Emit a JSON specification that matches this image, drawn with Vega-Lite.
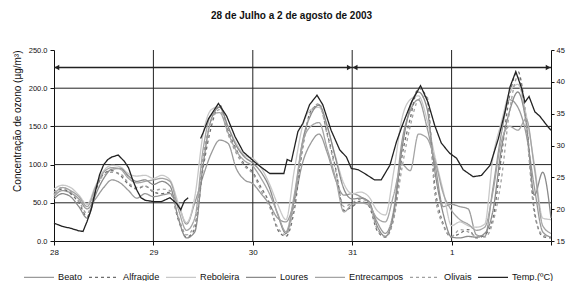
{
  "$schema": "https://vega.github.io/schema/vega-lite/v6.json",
  "width": 497,
  "height": 191,
  "autosize": "none",
  "padding": {"left": 54, "top": 50, "right": 18, "bottom": 40},
  "background": "white",
  "config": {
    "font": "Liberation Sans",
    "view": {"stroke": null},
    "axis": {"labelColor": "#111", "titleColor": "#111", "domainColor": "#111", "tickColor": "#111", "grid": false, "labelOverlap": false},
    "legend": {
      "labelFont": "Liberation Sans", "orient": "none", "legendX": -31, "legendY": 211, "direction": "horizontal",
      "symbolType": "stroke", "symbolSize": 900, "labelFontSize": 9.2, "labelOffset": 3,
      "columnPadding": 3, "labelColor": "#111", "title": null
    }
  },
  "title": {
    "text": "28 de Julho a 2 de agosto de 2003",
    "fontSize": 10,
    "fontWeight": "bold",
    "color": "#111",
    "anchor": "middle",
    "frame": "group",
    "dx": -11,
    "offset": 25
  },
  "datasets": {
    "o3": [
      {"h":0,"Beato":58,"Alfragide":62,"Reboleira":68,"Loures":55,"Entrecampos":60,"Olivais":64},
      {"h":2,"Beato":66,"Alfragide":68,"Reboleira":73,"Loures":62,"Entrecampos":70,"Olivais":70},
      {"h":4,"Beato":63,"Alfragide":62,"Reboleira":70,"Loures":58,"Entrecampos":66,"Olivais":65},
      {"h":6,"Beato":55,"Alfragide":50,"Reboleira":60,"Loures":45,"Entrecampos":58,"Olivais":52},
      {"h":8,"Beato":42,"Alfragide":32,"Reboleira":48,"Loures":30,"Entrecampos":45,"Olivais":36},
      {"h":10,"Beato":55,"Alfragide":65,"Reboleira":72,"Loures":60,"Entrecampos":70,"Olivais":68},
      {"h":12,"Beato":70,"Alfragide":88,"Reboleira":92,"Loures":82,"Entrecampos":90,"Olivais":86},
      {"h":14,"Beato":80,"Alfragide":92,"Reboleira":99,"Loures":94,"Entrecampos":96,"Olivais":90},
      {"h":16,"Beato":76,"Alfragide":86,"Reboleira":97,"Loures":95,"Entrecampos":94,"Olivais":88},
      {"h":18,"Beato":66,"Alfragide":74,"Reboleira":88,"Loures":85,"Entrecampos":82,"Olivais":76},
      {"h":20,"Beato":56,"Alfragide":68,"Reboleira":85,"Loures":78,"Entrecampos":76,"Olivais":70},
      {"h":22,"Beato":62,"Alfragide":72,"Reboleira":86,"Loures":80,"Entrecampos":78,"Olivais":72},
      {"h":24,"Beato":58,"Alfragide":64,"Reboleira":82,"Loures":74,"Entrecampos":80,"Olivais":66},
      {"h":26,"Beato":60,"Alfragide":62,"Reboleira":86,"Loures":78,"Entrecampos":82,"Olivais":68},
      {"h":28,"Beato":62,"Alfragide":64,"Reboleira":80,"Loures":72,"Entrecampos":78,"Olivais":66},
      {"h":30,"Beato":48,"Alfragide":28,"Reboleira":50,"Loures":30,"Entrecampos":42,"Olivais":32},
      {"h":32,"Beato":22,"Alfragide":5,"Reboleira":24,"Loures":4,"Entrecampos":14,"Olivais":8},
      {"h":34,"Beato":50,"Alfragide":16,"Reboleira":58,"Loures":12,"Entrecampos":30,"Olivais":22},
      {"h":36,"Beato":85,"Alfragide":95,"Reboleira":140,"Loures":100,"Entrecampos":120,"Olivais":110},
      {"h":38,"Beato":115,"Alfragide":150,"Reboleira":172,"Loures":160,"Entrecampos":165,"Olivais":158},
      {"h":40,"Beato":132,"Alfragide":178,"Reboleira":176,"Loures":175,"Entrecampos":168,"Olivais":172},
      {"h":42,"Beato":128,"Alfragide":145,"Reboleira":150,"Loures":150,"Entrecampos":142,"Olivais":140},
      {"h":44,"Beato":95,"Alfragide":120,"Reboleira":128,"Loures":125,"Entrecampos":118,"Olivais":115},
      {"h":46,"Beato":80,"Alfragide":100,"Reboleira":112,"Loures":110,"Entrecampos":105,"Olivais":98},
      {"h":48,"Beato":75,"Alfragide":90,"Reboleira":108,"Loures":102,"Entrecampos":98,"Olivais":88},
      {"h":50,"Beato":62,"Alfragide":70,"Reboleira":96,"Loures":90,"Entrecampos":82,"Olivais":66},
      {"h":52,"Beato":48,"Alfragide":50,"Reboleira":75,"Loures":70,"Entrecampos":62,"Olivais":45},
      {"h":54,"Beato":30,"Alfragide":15,"Reboleira":48,"Loures":35,"Entrecampos":36,"Olivais":18},
      {"h":56,"Beato":25,"Alfragide":6,"Reboleira":28,"Loures":10,"Entrecampos":12,"Olivais":8},
      {"h":58,"Beato":52,"Alfragide":40,"Reboleira":92,"Loures":55,"Entrecampos":60,"Olivais":48},
      {"h":60,"Beato":102,"Alfragide":120,"Reboleira":150,"Loures":130,"Entrecampos":128,"Olivais":125},
      {"h":62,"Beato":128,"Alfragide":170,"Reboleira":172,"Loures":165,"Entrecampos":150,"Olivais":168},
      {"h":64,"Beato":140,"Alfragide":178,"Reboleira":175,"Loures":178,"Entrecampos":155,"Olivais":180},
      {"h":66,"Beato":115,"Alfragide":140,"Reboleira":148,"Loures":150,"Entrecampos":120,"Olivais":138},
      {"h":68,"Beato":80,"Alfragide":95,"Reboleira":110,"Loures":108,"Entrecampos":82,"Olivais":92},
      {"h":70,"Beato":60,"Alfragide":40,"Reboleira":75,"Loures":68,"Entrecampos":38,"Olivais":45},
      {"h":72,"Beato":62,"Alfragide":45,"Reboleira":62,"Loures":55,"Entrecampos":48,"Olivais":50},
      {"h":74,"Beato":58,"Alfragide":52,"Reboleira":64,"Loures":56,"Entrecampos":50,"Olivais":55},
      {"h":76,"Beato":50,"Alfragide":46,"Reboleira":58,"Loures":52,"Entrecampos":47,"Olivais":50},
      {"h":78,"Beato":25,"Alfragide":14,"Reboleira":40,"Loures":20,"Entrecampos":30,"Olivais":16},
      {"h":80,"Beato":10,"Alfragide":5,"Reboleira":34,"Loures":6,"Entrecampos":25,"Olivais":6},
      {"h":82,"Beato":40,"Alfragide":30,"Reboleira":90,"Loures":35,"Entrecampos":60,"Olivais":28},
      {"h":84,"Beato":130,"Alfragide":110,"Reboleira":160,"Loures":120,"Entrecampos":100,"Olivais":95},
      {"h":86,"Beato":170,"Alfragide":160,"Reboleira":185,"Loures":175,"Entrecampos":92,"Olivais":150},
      {"h":88,"Beato":185,"Alfragide":200,"Reboleira":190,"Loures":195,"Entrecampos":140,"Olivais":185},
      {"h":90,"Beato":150,"Alfragide":188,"Reboleira":160,"Loures":175,"Entrecampos":135,"Olivais":190},
      {"h":92,"Beato":100,"Alfragide":70,"Reboleira":110,"Loures":90,"Entrecampos":105,"Olivais":60},
      {"h":94,"Beato":45,"Alfragide":22,"Reboleira":65,"Loures":35,"Entrecampos":62,"Olivais":20},
      {"h":96,"Beato":48,"Alfragide":5,"Reboleira":20,"Loures":5,"Entrecampos":40,"Olivais":6},
      {"h":98,"Beato":45,"Alfragide":10,"Reboleira":25,"Loures":4,"Entrecampos":28,"Olivais":15},
      {"h":100,"Beato":42,"Alfragide":15,"Reboleira":20,"Loures":6,"Entrecampos":22,"Olivais":12},
      {"h":102,"Beato":8,"Alfragide":4,"Reboleira":18,"Loures":5,"Entrecampos":14,"Olivais":6},
      {"h":104,"Beato":6,"Alfragide":8,"Reboleira":22,"Loures":10,"Entrecampos":18,"Olivais":5},
      {"h":106,"Beato":70,"Alfragide":30,"Reboleira":110,"Loures":40,"Entrecampos":65,"Olivais":25},
      {"h":108,"Beato":140,"Alfragide":110,"Reboleira":155,"Loures":120,"Entrecampos":130,"Olivais":80},
      {"h":110,"Beato":185,"Alfragide":190,"Reboleira":195,"Loures":170,"Entrecampos":150,"Olivais":170},
      {"h":112,"Beato":175,"Alfragide":222,"Reboleira":205,"Loures":195,"Entrecampos":145,"Olivais":215},
      {"h":114,"Beato":140,"Alfragide":160,"Reboleira":165,"Loures":155,"Entrecampos":160,"Olivais":150},
      {"h":116,"Beato":70,"Alfragide":40,"Reboleira":100,"Loures":60,"Entrecampos":95,"Olivais":35},
      {"h":118,"Beato":12,"Alfragide":6,"Reboleira":30,"Loures":90,"Entrecampos":20,"Olivais":8},
      {"h":120,"Beato":5,"Alfragide":4,"Reboleira":28,"Loures":30,"Entrecampos":10,"Olivais":5}
    ],
    "temp": [
      {"h":0,"t":17.8,"seg":1,"key":"Temp.(ºC)"},{"h":2,"t":17.3,"seg":1,"key":"Temp.(ºC)"},{"h":4,"t":17.0,"seg":1,"key":"Temp.(ºC)"},
      {"h":6,"t":16.6,"seg":1,"key":"Temp.(ºC)"},{"h":7,"t":16.5,"seg":1,"key":"Temp.(ºC)"},{"h":8,"t":18.1,"seg":1,"key":"Temp.(ºC)"},
      {"h":9,"t":20.0,"seg":1,"key":"Temp.(ºC)"},{"h":10,"t":22.8,"seg":1,"key":"Temp.(ºC)"},{"h":11,"t":25.4,"seg":1,"key":"Temp.(ºC)"},
      {"h":12,"t":27.0,"seg":1,"key":"Temp.(ºC)"},{"h":13,"t":27.8,"seg":1,"key":"Temp.(ºC)"},{"h":14,"t":28.2,"seg":1,"key":"Temp.(ºC)"},
      {"h":15.5,"t":28.5,"seg":1,"key":"Temp.(ºC)"},{"h":17,"t":27.5,"seg":1,"key":"Temp.(ºC)"},{"h":18,"t":26.5,"seg":1,"key":"Temp.(ºC)"},
      {"h":19,"t":24.6,"seg":1,"key":"Temp.(ºC)"},{"h":20,"t":23.0,"seg":1,"key":"Temp.(ºC)"},{"h":21,"t":21.8,"seg":1,"key":"Temp.(ºC)"},
      {"h":22,"t":21.4,"seg":1,"key":"Temp.(ºC)"},{"h":24,"t":21.2,"seg":1,"key":"Temp.(ºC)"},{"h":26,"t":21.2,"seg":1,"key":"Temp.(ºC)"},
      {"h":28,"t":21.8,"seg":1,"key":"Temp.(ºC)"},{"h":29.6,"t":20.9,"seg":1,"key":"Temp.(ºC)"},{"h":30.6,"t":19.9,"seg":1,"key":"Temp.(ºC)"},
      {"h":31.5,"t":21.3,"seg":1,"key":"Temp.(ºC)"},{"h":32.4,"t":21.8,"seg":1,"key":"Temp.(ºC)"},
      {"h":35.4,"t":31.1,"seg":2,"key":"Temp.(ºC)"},{"h":36,"t":32.0,"seg":2,"key":"Temp.(ºC)"},{"h":37.3,"t":34.2,"seg":2,"key":"Temp.(ºC)"},
      {"h":39.7,"t":36.6,"seg":2,"key":"Temp.(ºC)"},{"h":41.7,"t":34.6,"seg":2,"key":"Temp.(ºC)"},{"h":43.7,"t":31.4,"seg":2,"key":"Temp.(ºC)"},
      {"h":45.7,"t":29.0,"seg":2,"key":"Temp.(ºC)"},{"h":48.1,"t":27.6,"seg":2,"key":"Temp.(ºC)"},{"h":50,"t":26.6,"seg":2,"key":"Temp.(ºC)"},
      {"h":52.1,"t":25.6,"seg":2,"key":"Temp.(ºC)"},{"h":55.5,"t":25.6,"seg":2,"key":"Temp.(ºC)"},{"h":56.3,"t":27.8,"seg":2,"key":"Temp.(ºC)"},
      {"h":57.3,"t":27.5,"seg":2,"key":"Temp.(ºC)"},{"h":58.9,"t":32.2,"seg":2,"key":"Temp.(ºC)"},{"h":60.1,"t":33.5,"seg":2,"key":"Temp.(ºC)"},
      {"h":61.7,"t":36.4,"seg":2,"key":"Temp.(ºC)"},{"h":63.5,"t":37.9,"seg":2,"key":"Temp.(ºC)"},{"h":64.9,"t":36.4,"seg":2,"key":"Temp.(ºC)"},
      {"h":66.9,"t":32.4,"seg":2,"key":"Temp.(ºC)"},{"h":69,"t":29.3,"seg":2,"key":"Temp.(ºC)"},{"h":70.6,"t":28.2,"seg":2,"key":"Temp.(ºC)"},
      {"h":71.8,"t":26.4,"seg":2,"key":"Temp.(ºC)"},{"h":73.4,"t":26.2,"seg":2,"key":"Temp.(ºC)"},{"h":75,"t":25.6,"seg":2,"key":"Temp.(ºC)"},
      {"h":77.4,"t":24.6,"seg":2,"key":"Temp.(ºC)"},{"h":79,"t":24.6,"seg":2,"key":"Temp.(ºC)"},{"h":81.1,"t":26.9,"seg":2,"key":"Temp.(ºC)"},
      {"h":82.7,"t":30.6,"seg":2,"key":"Temp.(ºC)"},{"h":84.3,"t":33.5,"seg":2,"key":"Temp.(ºC)"},{"h":86.3,"t":36.8,"seg":2,"key":"Temp.(ºC)"},
      {"h":88.5,"t":39.4,"seg":2,"key":"Temp.(ºC)"},{"h":90.3,"t":36.8,"seg":2,"key":"Temp.(ºC)"},{"h":91.9,"t":33.2,"seg":2,"key":"Temp.(ºC)"},
      {"h":93.5,"t":30.4,"seg":2,"key":"Temp.(ºC)"},{"h":95.5,"t":28.8,"seg":2,"key":"Temp.(ºC)"},{"h":97.2,"t":28.0,"seg":2,"key":"Temp.(ºC)"},
      {"h":98.8,"t":26.2,"seg":2,"key":"Temp.(ºC)"},{"h":101.2,"t":25.1,"seg":2,"key":"Temp.(ºC)"},{"h":103.2,"t":25.3,"seg":2,"key":"Temp.(ºC)"},
      {"h":105.3,"t":26.9,"seg":2,"key":"Temp.(ºC)"},{"h":107.3,"t":31.1,"seg":2,"key":"Temp.(ºC)"},{"h":108.9,"t":35.3,"seg":2,"key":"Temp.(ºC)"},
      {"h":110.1,"t":39.2,"seg":2,"key":"Temp.(ºC)"},{"h":111.5,"t":41.6,"seg":2,"key":"Temp.(ºC)"},{"h":112.9,"t":39.0,"seg":2,"key":"Temp.(ºC)"},
      {"h":113.7,"t":36.8,"seg":2,"key":"Temp.(ºC)"},{"h":114.7,"t":37.7,"seg":2,"key":"Temp.(ºC)"},{"h":116.1,"t":35.3,"seg":2,"key":"Temp.(ºC)"},
      {"h":117.3,"t":34.6,"seg":2,"key":"Temp.(ºC)"},{"h":119.2,"t":33.0,"seg":2,"key":"Temp.(ºC)"},{"h":120,"t":32.4,"seg":2,"key":"Temp.(ºC)"}
    ]
  },
  "layer": [
    {
      "data": {"values": [{"v": 50}, {"v": 100}, {"v": 150}, {"v": 200}]},
      "mark": {"type": "rule", "color": "#222", "strokeWidth": 1},
      "encoding": {
        "y": {"field": "v", "type": "quantitative", "scale": {"domain": [0, 250], "nice": false}, "axis": null}
      }
    },
    {
      "data": {"values": [{"h": 24}, {"h": 48}, {"h": 72}, {"h": 96}]},
      "mark": {"type": "rule", "color": "#222", "strokeWidth": 1},
      "encoding": {
        "x": {"field": "h", "type": "quantitative", "scale": {"domain": [0, 120], "nice": false},
          "axis": {
            "values": [0, 24, 48, 72, 96, 120],
            "labelExpr": "datum.value == 0 ? '28' : datum.value == 24 ? '29' : datum.value == 48 ? '30' : datum.value == 72 ? '31' : datum.value == 96 ? '1' : ''",
            "title": null, "labelFontSize": 8, "tickSize": 4, "labelPadding": 3, "labelFlush": false, "labelOverlap": false
          }
        }
      }
    },
    {
      "data": {"name": "o3"},
      "transform": [{"fold": ["Beato", "Alfragide", "Reboleira", "Loures", "Entrecampos", "Olivais"], "as": ["key", "v"]}],
      "mark": {"type": "line", "interpolate": "monotone"},
      "encoding": {
        "x": {"field": "h", "type": "quantitative"},
        "y": {
          "field": "v", "type": "quantitative",
          "scale": {"domain": [0, 250], "nice": false},
          "axis": {
            "values": [0, 50, 100, 150, 200, 250], "format": ".1f", "labelOverlap": false,
            "labelFontSize": 7.5, "tickSize": 4, "labelPadding": 3,
            "title": "Concentração de ozono (µg/m³)", "titleFontSize": 10, "titleFontWeight": "normal", "titlePadding": 6, "titleAnchor": "end"
          }
        },
        "color": {
          "field": "key", "type": "nominal",
          "scale": {"domain": ["Beato", "Alfragide", "Reboleira", "Loures", "Entrecampos", "Olivais", "Temp.(ºC)"],
                    "range": ["#9a9a9a", "#6e6e6e", "#c8c8c8", "#8a8a8a", "#a4a4a4", "#a0a0a0", "#222222"]}
        },
        "strokeDash": {
          "field": "key", "type": "nominal",
          "scale": {"domain": ["Beato", "Alfragide", "Reboleira", "Loures", "Entrecampos", "Olivais", "Temp.(ºC)"],
                    "range": [[1, 0], [3, 3], [1, 0], [1, 0], [1, 0], [3, 3], [1, 0]]}
        },
        "strokeWidth": {
          "field": "key", "type": "nominal",
          "scale": {"domain": ["Beato", "Alfragide", "Reboleira", "Loures", "Entrecampos", "Olivais", "Temp.(ºC)"],
                    "range": [1.3, 1.3, 1.3, 1.3, 1.3, 1.3, 2.2]}
        }
      }
    },
    {
      "data": {"values": [{"h": 0, "h2": 72, "v": 227}, {"h": 72, "h2": 120, "v": 227}]},
      "mark": {"type": "rule", "color": "#222", "strokeWidth": 1.5},
      "encoding": {
        "x": {"field": "h", "type": "quantitative"},
        "x2": {"field": "h2"},
        "y": {"field": "v", "type": "quantitative", "scale": {"domain": [0, 250], "nice": false}, "axis": null}
      }
    },
    {
      "data": {"values": [
        {"h": 0.7, "v": 227, "dir": "l"}, {"h": 71.3, "v": 227, "dir": "r"},
        {"h": 72.7, "v": 227, "dir": "l"}, {"h": 119.3, "v": 227, "dir": "r"}
      ]},
      "mark": {"type": "point", "filled": true, "color": "#222", "size": 30, "opacity": 1},
      "encoding": {
        "x": {"field": "h", "type": "quantitative"},
        "y": {"field": "v", "type": "quantitative", "scale": {"domain": [0, 250], "nice": false}, "axis": null},
        "shape": {"field": "dir", "type": "nominal", "scale": {"domain": ["l", "r"], "range": ["triangle-left", "triangle-right"]}, "legend": null}
      }
    },
    {
      "data": {"name": "temp"},
      "mark": {"type": "line"},
      "encoding": {
        "x": {"field": "h", "type": "quantitative"},
        "y": {
          "field": "t", "type": "quantitative",
          "scale": {"domain": [15, 45], "nice": false, "zero": false},
          "axis": {"orient": "right", "values": [15, 20, 25, 30, 35, 40, 45], "labelFontSize": 7.5, "tickSize": 3, "labelPadding": 2, "title": null}
        },
        "detail": {"field": "seg", "type": "nominal"},
        "color": {"field": "key", "type": "nominal"},
        "strokeDash": {"field": "key", "type": "nominal"},
        "strokeWidth": {"field": "key", "type": "nominal"}
      }
    }
  ],
  "resolve": {"scale": {"y": "independent"}, "axis": {"y": "independent"}}
}
